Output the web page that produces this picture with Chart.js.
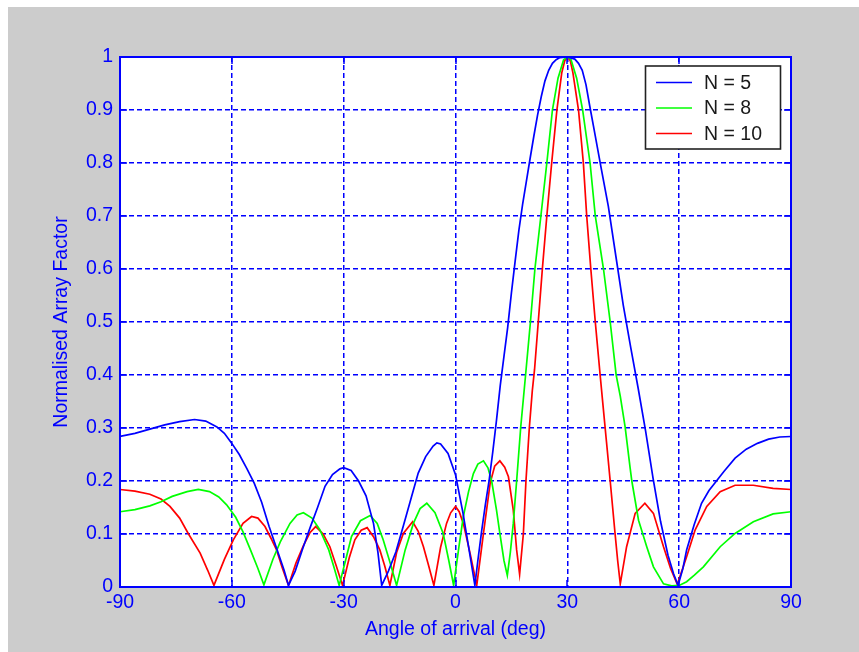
<!DOCTYPE html>
<html>
<head>
<meta charset="utf-8">
<title>Normalised Array Factor</title>
<script src="https://cdn.jsdelivr.net/npm/chart.js@4.4.1/dist/chart.umd.min.js"></script>
<style>
  html, body { margin: 0; padding: 0; background: #fff; }
  #wrap { width: 859px; height: 652px; position: relative; }
</style>
</head>
<body>
<div id="wrap"><canvas id="af-chart"></canvas></div>
<script>
'use strict';

// Angle of arrival (deg) and normalised array factor, one pair of arrays per array size
const angles5 = [-90, -86, -82, -78, -74, -70, -67, -64, -62, -60, -58, -56, -54, -52, -50, -48, -46, -44.8,
  -43, -41, -39, -37, -35, -33, -31, -30, -28, -26, -24, -22, -20.8, -19.8, -18, -16, -14, -12, -10, -8, -6,
  -5, -4, -2, 0, 2, 4, 5.2, 6, 7, 8, 9, 10, 11, 12, 13, 14, 15, 16, 17, 18, 19, 20, 21, 22, 23, 24, 25, 26,
  27, 28, 30, 32, 33, 34, 35, 36, 37, 39, 41, 43, 45, 47, 49, 51, 53, 55, 57, 58.5, 59.7, 61, 62, 64, 66, 68,
  70, 72, 75, 78, 81, 84, 87, 90];
const af5 = [0.284, 0.29, 0.298, 0.306, 0.312, 0.316, 0.313, 0.302, 0.29, 0.271, 0.25, 0.224, 0.196, 0.16,
  0.114, 0.073, 0.032, 0.003, 0.03, 0.072, 0.112, 0.15, 0.19, 0.212, 0.223, 0.225, 0.22, 0.2, 0.172, 0.12,
  0.065, 0.003, 0.03, 0.066, 0.115, 0.165, 0.215, 0.246, 0.266, 0.272, 0.27, 0.252, 0.212, 0.14, 0.055, 0.003,
  0.05, 0.105, 0.155, 0.2, 0.255, 0.315, 0.38, 0.435, 0.49, 0.555, 0.615, 0.673, 0.722, 0.765, 0.808, 0.85,
  0.89, 0.925, 0.955, 0.975, 0.988, 0.995, 0.999, 1.0, 0.996, 0.988, 0.975, 0.948, 0.908, 0.87, 0.793, 0.718,
  0.625, 0.532, 0.452, 0.375, 0.294, 0.205, 0.124, 0.06, 0.025, 0.003, 0.035, 0.07, 0.117, 0.158, 0.182, 0.2,
  0.218, 0.243, 0.26, 0.271, 0.279, 0.283, 0.284];

const angles8 = [-90, -86, -82, -79, -76, -72, -69, -66, -63.5, -61.4, -59, -57, -55, -53, -51.4, -49, -47,
  -44.4, -42.5, -40.8, -38.5, -36.4, -34, -32.5, -31.2, -29.5, -27.9, -25.5, -22.9, -21, -19.4, -17.5, -15.8,
  -13.5, -11.3, -9.5, -7.7, -5.5, -3.3, -1.8, -0.5, 1, 2.1, 3.5, 4.8, 6, 7.5, 8.7, 9.7, 11, 11.9, 13, 13.9,
  14.7, 15.5, 16.4, 17.5, 18.8, 20.1, 21.3, 22.9, 24.5, 26, 27.5, 29, 30, 31, 32.5, 34.1, 36.1, 37.5, 39.7,
  41.5, 43.1, 44.2, 45.5, 46.8, 47.3, 49.1, 51.3, 53.1, 55.8, 58, 60, 62, 64, 66.5, 71, 75, 79.9, 85.2, 90];
const af8 = [0.142, 0.146, 0.153, 0.161, 0.171, 0.18, 0.184, 0.18, 0.17, 0.155, 0.132, 0.104, 0.07, 0.035,
  0.004, 0.052, 0.085, 0.12, 0.136, 0.14, 0.13, 0.108, 0.07, 0.035, 0.003, 0.05, 0.095, 0.125, 0.135, 0.12,
  0.089, 0.045, 0.003, 0.07, 0.12, 0.148, 0.158, 0.14, 0.101, 0.05, 0.003, 0.08, 0.133, 0.18, 0.214, 0.232,
  0.238, 0.225, 0.2, 0.145, 0.101, 0.05, 0.022, 0.065, 0.12, 0.2, 0.302, 0.4, 0.5, 0.6, 0.7, 0.8, 0.9, 0.96,
  0.995, 1.0, 0.995, 0.96, 0.9, 0.8, 0.7, 0.6, 0.5, 0.4, 0.36, 0.302, 0.227, 0.2, 0.126, 0.076, 0.038, 0.006,
  0.002, 0.003, 0.01, 0.022, 0.038, 0.076, 0.101, 0.123, 0.138, 0.142];

const angles10 = [-90, -86, -82, -79, -76.6, -74, -71.7, -68.5, -66.5, -64.8, -62, -59.6, -57, -54.7, -53,
  -51.1, -49.5, -48, -46.5, -44.8, -42.8, -40.8, -39, -37.5, -35.5, -33.7, -32, -30.3, -28.5, -27, -25.3,
  -23.7, -22, -20.3, -19, -17.6, -15.8, -14, -11.5, -10, -8.6, -7.2, -5.8, -4, -2.4, -1.3, 0, 1, 2.1, 3.9,
  5.7, 7.5, 9.3, 10.5, 11.9, 13.2, 14.2, 15.5, 16.4, 17.2, 18.2, 18.9, 19.8, 20.6, 21.2, 22.2, 23.3, 24.5,
  25.8, 27.2, 28.5, 29.3, 30, 30.8, 31.5, 33, 34.3, 35.2, 36.3, 37.5, 38.8, 39.5, 40.5, 41.5, 42.8, 43.5,
  44.2, 45.9, 48.2, 50.8, 53.1, 55.8, 57.7, 59.5, 62, 64.3, 67.4, 71, 75, 79.9, 85.2, 90];
const af10 = [0.184, 0.181, 0.175, 0.166, 0.152, 0.13, 0.101, 0.064, 0.032, 0.003, 0.052, 0.089, 0.12, 0.133,
  0.13, 0.114, 0.092, 0.07, 0.037, 0.003, 0.045, 0.078, 0.103, 0.114, 0.1, 0.076, 0.04, 0.003, 0.055, 0.089,
  0.107, 0.112, 0.095, 0.07, 0.04, 0.003, 0.065, 0.101, 0.123, 0.105, 0.076, 0.04, 0.003, 0.075, 0.12, 0.14,
  0.152, 0.142, 0.12, 0.064, 0.003, 0.101, 0.196, 0.228, 0.238, 0.226, 0.208, 0.145, 0.07, 0.024, 0.1, 0.2,
  0.3, 0.37, 0.41, 0.5, 0.6, 0.7, 0.8, 0.9, 0.97, 0.993, 1.0, 0.993, 0.97, 0.9, 0.8, 0.7, 0.6, 0.5, 0.4,
  0.348, 0.274, 0.2, 0.101, 0.05, 0.006, 0.076, 0.139, 0.158, 0.139, 0.076, 0.035, 0.005, 0.057, 0.108,
  0.152, 0.18, 0.192, 0.192, 0.186, 0.184];

const seriesLabels = ['N = 5', 'N = 8', 'N = 10'];
const seriesColors = ['#0000ff', '#00ff00', '#ff0000'];

const xTicks = [-90, -60, -30, 0, 30, 60, 90];
const yTicks = [0, 0.1, 0.2, 0.3, 0.4, 0.5, 0.6, 0.7, 0.8, 0.9, 1];

const AXIS_BLUE = '#0000ff';
const FIG_GRAY = '#cccccc';
const FONT = { family: '"Liberation Sans", Arial, sans-serif', size: 19.5 };
const GRID_DASH = [5, 3];

function toPoints(xs, ys) {
  return xs.map((x, i) => ({ x, y: ys[i] }));
}

// figure background: thin white strip top/left, gray figure, white axes
const figureBackground = {
  id: 'figureBackground',
  beforeDraw(chart) {
    const { ctx, width, height, chartArea: a } = chart;
    ctx.save();
    ctx.fillStyle = '#ffffff';
    ctx.fillRect(0, 0, width, height);
    ctx.fillStyle = FIG_GRAY;
    ctx.fillRect(8, 7, width - 8, height - 7);
    ctx.fillStyle = '#ffffff';
    ctx.fillRect(a.left, a.top, a.right - a.left, a.bottom - a.top);
    ctx.restore();
  },
};

// MATLAB style box with inward ticks on all four sides
const axesBox = {
  id: 'axesBox',
  afterDatasetsDraw(chart) {
    const { ctx, chartArea: a, scales } = chart;
    const tick = 7;
    ctx.save();
    ctx.strokeStyle = AXIS_BLUE;
    ctx.lineWidth = 2;
    ctx.setLineDash([]);
    const l = Math.round(a.left), r = Math.round(a.right);
    const t = Math.round(a.top), b = Math.round(a.bottom);
    ctx.strokeRect(l, t, r - l, b - t);
    ctx.lineWidth = 1.5;
    ctx.beginPath();
    xTicks.forEach(v => {
      const px = Math.round(scales.x.getPixelForValue(v));
      ctx.moveTo(px, b); ctx.lineTo(px, b - tick);
      ctx.moveTo(px, t); ctx.lineTo(px, t + tick);
    });
    yTicks.forEach(v => {
      const py = Math.round(scales.y.getPixelForValue(v));
      ctx.moveTo(l, py); ctx.lineTo(l + tick, py);
      ctx.moveTo(r, py); ctx.lineTo(r - tick, py);
    });
    ctx.stroke();
    ctx.restore();
  },
};

// boxed legend in the upper right of the axes
const boxLegend = {
  id: 'boxLegend',
  afterDraw(chart) {
    const { ctx } = chart;
    const x0 = 645.5, y0 = 66, w = 135, h = 83;
    ctx.save();
    ctx.fillStyle = '#ffffff';
    ctx.fillRect(x0, y0, w, h);
    ctx.strokeStyle = '#222222';
    ctx.lineWidth = 1.6;
    ctx.strokeRect(x0, y0, w, h);
    ctx.font = `${FONT.size}px ${FONT.family}`;
    ctx.textBaseline = 'middle';
    ctx.textAlign = 'left';
    chart.data.datasets.forEach((ds, i) => {
      const y = 82.5 + i * 25.5;
      ctx.strokeStyle = ds.borderColor;
      ctx.lineWidth = 1.6;
      ctx.beginPath();
      ctx.moveTo(656, y);
      ctx.lineTo(692, y);
      ctx.stroke();
      ctx.fillStyle = '#1a1a1a';
      ctx.fillText(ds.label, 704, y + 1);
    });
    ctx.restore();
  },
};

const datasets = [
  toPoints(angles5, af5),
  toPoints(angles8, af8),
  toPoints(angles10, af10),
].map((data, i) => ({
  label: seriesLabels[i],
  data,
  borderColor: seriesColors[i],
  borderWidth: 1.7,
  pointRadius: 0,
  pointHoverRadius: 0,
  tension: 0,
  fill: false,
}));

new Chart(document.getElementById('af-chart'), {
  type: 'line',
  data: { datasets },
  plugins: [figureBackground, axesBox, boxLegend],
  options: {
    responsive: true,
    maintainAspectRatio: false,
    animation: false,
    devicePixelRatio: 1,
    layout: { padding: { left: 0, top: 57, right: 68, bottom: 0 } },
    plugins: {
      legend: { display: false },
      tooltip: { enabled: false },
    },
    scales: {
      x: {
        type: 'linear',
        min: -90,
        max: 90,
        afterBuildTicks: (s) => { s.ticks = xTicks.map(v => ({ value: v })); },
        afterFit: (s) => { s.height = 65; },
        ticks: {
          color: AXIS_BLUE,
          font: FONT,
          padding: 4,
          maxRotation: 0,
          autoSkip: false,
          callback: (v) => String(v),
        },
        grid: { color: AXIS_BLUE, lineWidth: 1.5, drawTicks: false },
        border: { display: true, color: AXIS_BLUE, width: 2, dash: GRID_DASH },
        title: {
          display: true,
          text: 'Angle of arrival (deg)',
          color: AXIS_BLUE,
          font: FONT,
          padding: { top: 0, bottom: 11 },
        },
      },
      y: {
        min: 0,
        max: 1,
        afterBuildTicks: (s) => { s.ticks = yTicks.map(v => ({ value: v })); },
        afterFit: (s) => { s.width = 120; },
        ticks: {
          color: AXIS_BLUE,
          font: FONT,
          padding: 7,
          autoSkip: false,
          callback: (v) => String(Math.round(v * 10) / 10),
        },
        grid: { color: AXIS_BLUE, lineWidth: 1.5, drawTicks: false },
        border: { display: true, color: AXIS_BLUE, width: 2, dash: GRID_DASH },
        title: {
          display: true,
          text: 'Normalised Array Factor',
          color: AXIS_BLUE,
          font: FONT,
          padding: { top: 50, bottom: 0 },
        },
      },
    },
  },
});
</script>
</body>
</html>
